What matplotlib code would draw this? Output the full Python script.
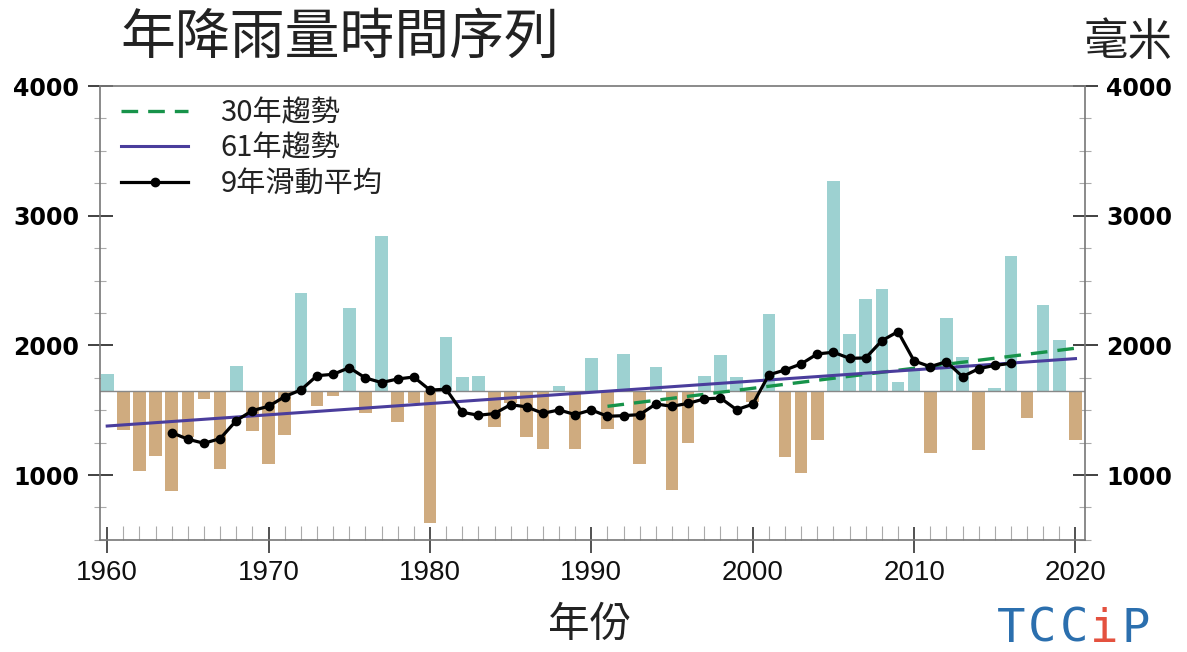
import numpy as np
import matplotlib
matplotlib.use("Agg")
import matplotlib.pyplot as plt
from matplotlib.ticker import MultipleLocator

plt.rcParams["font.family"] = ["Noto Sans CJK TC", "DejaVu Sans"]

# annual rainfall (mm), 1960-2020
years = list(range(1960, 2021))
rainfall = [
    1780, 1348, 1034, 1147, 877, 1293, 1587, 1050, 1841, 1340,
    1086, 1309, 2404, 1535, 1610, 2291, 1482, 2843, 1409, 1555,
    633, 2067, 1755, 1766, 1373, 1556, 1296, 1203, 1687, 1199,
    1906, 1358, 1936, 1083, 1831, 885, 1245, 1766, 1926, 1755,
    1560, 2242, 1140, 1014, 1270, 3270, 2088, 2355, 2435, 1721,
    1818, 1168, 2214, 1911, 1193, 1669, 2687, 1438, 2311, 2042,
    1270,
]
baseline = 1645

# 9-year running mean, centred, 1964-2016
ma_years = list(range(1964, 2017))
ma_values = [
    1327, 1276, 1245, 1281, 1420, 1497, 1530, 1605, 1656, 1766,
    1777, 1828, 1749, 1713, 1741, 1756, 1655, 1662, 1484, 1461,
    1474, 1543, 1525, 1476, 1502, 1466, 1502, 1453, 1458, 1466,
    1548, 1530, 1553, 1587, 1594, 1504, 1546, 1773, 1810, 1857,
    1934, 1947, 1900, 1903, 2036, 2106, 1880, 1836, 1874, 1759,
    1820, 1846, 1861,
]

# linear trends (end points)
trend61_years = [1960, 2020]
trend61_values = [1378, 1898]
trend30_years = [1991, 2020]
trend30_values = [1530, 1978]

col_wet = "#9dd1d1"
col_dry = "#cfab7f"

fig = plt.figure(figsize=(11.87, 6.52), dpi=100)
ax = fig.add_axes([0.0842, 0.172, 0.830, 0.696])

anom = np.array(rainfall) - baseline
colors = [col_wet if a >= 0 else col_dry for a in anom]
ax.bar(years, anom, bottom=baseline, width=0.78, color=colors, zorder=2)
ax.axhline(baseline, color="#888888", lw=1.0, zorder=2.5)

ax.plot(trend30_years, trend30_values, color="#17934a", lw=2.4,
        dashes=(5, 3), label="30年趨勢", zorder=3)
ax.plot(trend61_years, trend61_values, color="#4a3d9c", lw=2.2,
        label="61年趨勢", zorder=3)
ax.plot(ma_years, ma_values, color="black", lw=2.3, marker="o",
        markersize=6, label="9年滑動平均", zorder=4)

ax.set_xlim(1959.55, 2020.6)
ax.set_ylim(500, 4000)
ax.xaxis.set_major_locator(MultipleLocator(10))
ax.xaxis.set_minor_locator(MultipleLocator(1))
ax.yaxis.set_major_locator(MultipleLocator(1000))
ax.yaxis.set_minor_locator(MultipleLocator(250))

for sp in ax.spines.values():
    sp.set_color("#777777")
    sp.set_linewidth(1.2)

ax.tick_params(axis="x", which="major", direction="inout", length=19,
               width=1.2, color="#333333", pad=5)
ax.tick_params(axis="x", which="minor", direction="in", length=10,
               width=0.8, color="#aaaaaa")
ax.tick_params(axis="y", which="major", direction="inout", length=18,
               width=1.3, color="#333333", left=True, right=True,
               labelleft=True, labelright=True, pad=6)
ax.tick_params(axis="y", which="minor", direction="inout", length=9,
               width=0.8, color="#aaaaaa", left=True, right=True)

for lab in ax.get_xticklabels():
    lab.set_family(["Liberation Sans", "DejaVu Sans"])
    lab.set_fontsize(20)
    lab.set_color("#111111")
for lab in ax.get_yticklabels():
    lab.set_family("DejaVu Sans")
    lab.set_fontweight("bold")
    lab.set_fontsize(17)

leg = ax.legend(loc="upper left", bbox_to_anchor=(0.004, 1.012), frameon=False,
                fontsize=21, handlelength=2.3, handletextpad=1.1,
                labelspacing=0.19, borderaxespad=0.2)
for txt in leg.get_texts():
    txt.set_color("#222222")

fig.text(0.101, 0.942, "年降雨量時間序列", fontsize=39.5, va="center",
         ha="left", color="#222222", fontweight="light")
fig.text(0.988, 0.936, "毫米", fontsize=32, va="center", ha="right",
         color="#222222", fontweight="light")
fig.text(0.497, 0.041, "年份", fontsize=30, va="center", ha="center",
         color="#222222", fontweight="light")

# TCCIP logo
logo = [("T", "#2b6fae"), ("C", "#2b6fae"), ("C", "#2b6fae"),
        ("i", "#e4513f"), ("P", "#2b6fae")]
x0 = 0.852
for i, (ch, c) in enumerate(logo):
    fig.text(x0 + i * 0.0262, 0.035, ch, fontsize=34, family="DejaVu Sans Mono",
             color=c, ha="center", va="center")

fig.savefig("out.png", dpi=100)
